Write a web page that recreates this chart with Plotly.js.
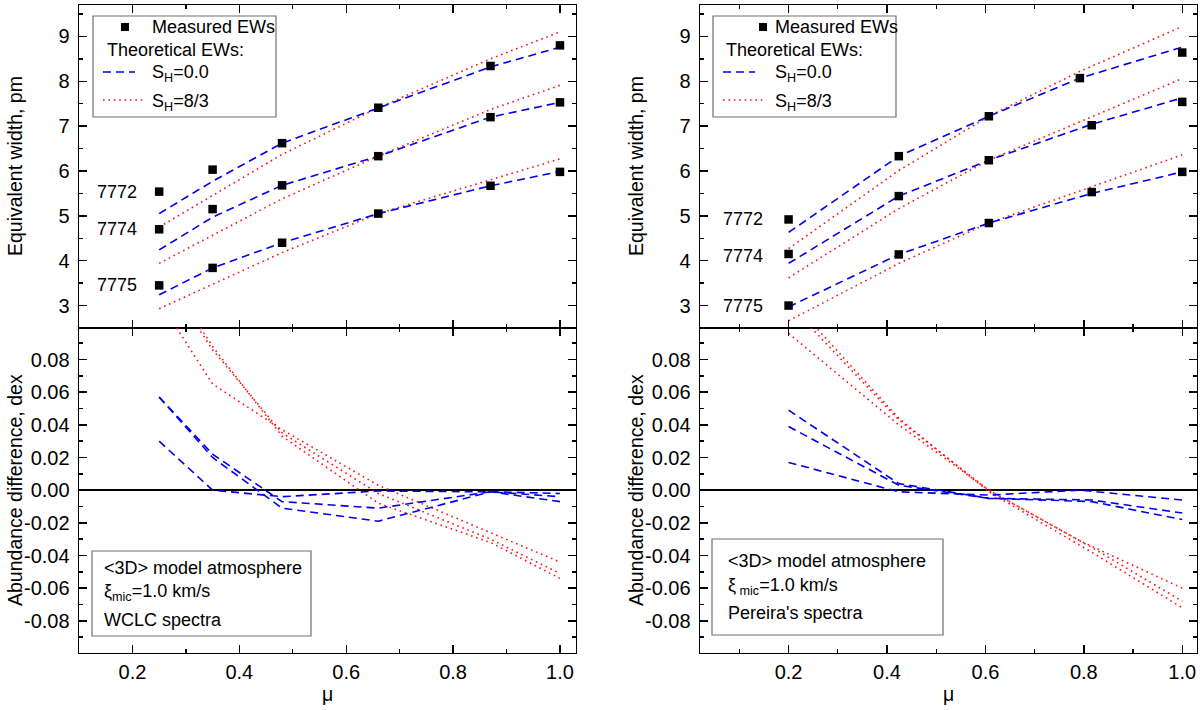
<!DOCTYPE html>
<html>
<head>
<meta charset="utf-8">
<script src="https://cdn.plot.ly/plotly-3.0.1.min.js"></script>
<style>html,body{margin:0;padding:0;background:#fff}</style>
</head>
<body>
<div id="chart" style="width:1200px;height:710px"></div>
<script>
// ---- left panels: WCLC spectra ----
const muL = [0.25, 0.35, 0.48, 0.66, 0.87, 1.0];

const ewMeasL7772 = [5.54, 6.03, 6.62, 7.41, 8.34, 8.80];
const ewMeasL7774 = [4.70, 5.15, 5.68, 6.33, 7.20, 7.53];
const ewMeasL7775 = [3.45, 3.84, 4.40, 5.05, 5.67, 5.98];

const ewS0L7772 = [5.05, 5.77, 6.62, 7.41, 8.32, 8.76];
const ewS0L7774 = [4.24, 4.97, 5.68, 6.33, 7.20, 7.53];
const ewS0L7775 = [3.24, 3.84, 4.40, 5.05, 5.67, 5.99];

const ewS83L7772 = [4.75, 5.45, 6.37, 7.41, 8.50, 9.10];
const ewS83L7774 = [3.94, 4.57, 5.38, 6.33, 7.37, 7.91];
const ewS83L7775 = [2.93, 3.47, 4.18, 5.05, 5.81, 6.27];

const dS0L7772 = [0.057, 0.022, -0.007, -0.011, -0.001, -0.004];
const dS0L7774 = [0.057, 0.020, -0.011, -0.019, -0.001, -0.007];
const dS0L7775 = [0.030, 0.000, -0.004, -0.0005, -0.001, -0.002];

const dS83L7772 = [0.116, 0.065, 0.037, 0.003, -0.026, -0.044];
const dS83L7774 = [0.136, 0.086, 0.035, -0.002, -0.030, -0.051];
const dS83L7775 = [0.138, 0.088, 0.033, -0.008, -0.032, -0.054];

// ---- right panels: Pereira's spectra ----
const muR7772 = [0.2, 0.424, 0.607, 0.792, 1.0];
const muR = [0.2, 0.424, 0.607, 0.816, 1.0];

const ewMeasR7772 = [4.92, 6.33, 7.22, 8.07, 8.64];
const ewMeasR7774 = [4.15, 5.44, 6.24, 7.02, 7.54];
const ewMeasR7775 = [3.00, 4.14, 4.84, 5.53, 5.98];

const ewS0R7772 = [4.63, 6.33, 7.22, 8.07, 8.76];
const ewS0R7774 = [3.94, 5.44, 6.24, 7.04, 7.63];
const ewS0R7775 = [2.97, 4.14, 4.84, 5.50, 5.98];

const ewS83R7772 = [4.27, 6.01, 7.22, 8.22, 9.22];
const ewS83R7774 = [3.62, 5.16, 6.24, 7.20, 8.06];
const ewS83R7775 = [2.66, 3.94, 4.84, 5.64, 6.36];

const dS0R7772 = [0.017, -0.001, -0.003, 0.000, -0.006];
const dS0R7774 = [0.039, 0.003, -0.005, -0.006, -0.014];
const dS0R7775 = [0.049, 0.004, -0.005, -0.007, -0.018];

const dS83R7772 = [0.096, 0.040, 0.000, -0.031, -0.060];
const dS83R7774 = [0.114, 0.043, 0.000, -0.035, -0.068];
const dS83R7775 = [0.118, 0.044, -0.001, -0.038, -0.072];

const lineNames = ['7772', '7774', '7775'];
const ewTicks = [3, 4, 5, 6, 7, 8, 9];
const dTicks = [-0.08, -0.06, -0.04, -0.02, 0.00, 0.02, 0.04, 0.06, 0.08];
const dTickText = ['-0.08', '-0.06', '-0.04', '-0.02', '0.00', '0.02', '0.04', '0.06', '0.08'];
const muTicks = [0.2, 0.4, 0.6, 0.8, 1.0];
const muTickText = ['0.2', '0.4', '0.6', '0.8', '1.0'];

// ---- helpers ----
const W = 1200, H = 710;
const fx = p => p / W;
const fy = p => 1 - p / H;
const FONT = '"Liberation Sans", Arial, Helvetica, sans-serif';
const BLUE = '#0000ee', RED = '#ff1010';
const DASH = '8px,5px', DOT = '1.6px,3.8px';

function theo(x, y, xa, ya, color, dash) {
  return {x: x, y: y, xaxis: xa, yaxis: ya, type: 'scatter', mode: 'lines',
    line: {color: color, width: 1.6, dash: dash}, showlegend: false, hoverinfo: 'skip'};
}
function meas(x, y, xa, ya) {
  return {x: x, y: y, xaxis: xa, yaxis: ya, type: 'scatter', mode: 'markers',
    marker: {symbol: 'square', size: 8.5, color: '#000'}, showlegend: false, hoverinfo: 'skip', cliponaxis: false};
}

const traces = [
  // left top
  theo(muL, ewS83L7772, 'x', 'y', RED, DOT),
  theo(muL, ewS83L7774, 'x', 'y', RED, DOT),
  theo(muL, ewS83L7775, 'x', 'y', RED, DOT),
  theo(muL, ewS0L7772, 'x', 'y', BLUE, DASH),
  theo(muL, ewS0L7774, 'x', 'y', BLUE, DASH),
  theo(muL, ewS0L7775, 'x', 'y', BLUE, DASH),
  meas(muL, ewMeasL7772, 'x', 'y'),
  meas(muL, ewMeasL7774, 'x', 'y'),
  meas(muL, ewMeasL7775, 'x', 'y'),
  // left bottom
  theo(muL, dS83L7772, 'x2', 'y2', RED, DOT),
  theo(muL, dS83L7774, 'x2', 'y2', RED, DOT),
  theo(muL, dS83L7775, 'x2', 'y2', RED, DOT),
  theo(muL, dS0L7772, 'x2', 'y2', BLUE, DASH),
  theo(muL, dS0L7774, 'x2', 'y2', BLUE, DASH),
  theo(muL, dS0L7775, 'x2', 'y2', BLUE, DASH),
  // right top
  theo(muR7772, ewS83R7772, 'x3', 'y3', RED, DOT),
  theo(muR, ewS83R7774, 'x3', 'y3', RED, DOT),
  theo(muR, ewS83R7775, 'x3', 'y3', RED, DOT),
  theo(muR7772, ewS0R7772, 'x3', 'y3', BLUE, DASH),
  theo(muR, ewS0R7774, 'x3', 'y3', BLUE, DASH),
  theo(muR, ewS0R7775, 'x3', 'y3', BLUE, DASH),
  meas(muR7772, ewMeasR7772, 'x3', 'y3'),
  meas(muR, ewMeasR7774, 'x3', 'y3'),
  meas(muR, ewMeasR7775, 'x3', 'y3'),
  // right bottom
  theo(muR7772, dS83R7772, 'x4', 'y4', RED, DOT),
  theo(muR, dS83R7774, 'x4', 'y4', RED, DOT),
  theo(muR, dS83R7775, 'x4', 'y4', RED, DOT),
  theo(muR7772, dS0R7772, 'x4', 'y4', BLUE, DASH),
  theo(muR, dS0R7774, 'x4', 'y4', BLUE, DASH),
  theo(muR, dS0R7775, 'x4', 'y4', BLUE, DASH)
];

function axis(extra) {
  return Object.assign({
    showline: true, linecolor: '#000', linewidth: 1.4, mirror: 'allticks',
    ticks: 'inside', ticklen: 8, tickwidth: 1.4, tickcolor: '#000',
    showgrid: false, zeroline: false, fixedrange: true,
    ticklabelstandoff: 4,
    tickfont: {family: FONT, size: 20, color: '#000'}
  }, extra);
}
const minorX = {ticks: 'inside', ticklen: 4, tickwidth: 1.4, tickcolor: '#000', tickmode: 'linear', tick0: 0, dtick: 0.1, showgrid: false};
const minorEW = {ticks: 'inside', ticklen: 4, tickwidth: 1.4, tickcolor: '#000', tickmode: 'linear', tick0: 0, dtick: 0.5, showgrid: false};
const minorD = {ticks: 'inside', ticklen: 4, tickwidth: 1.4, tickcolor: '#000', tickmode: 'linear', tick0: 0, dtick: 0.01, showgrid: false};

const xL = [fx(79), fx(576)], xR = [fx(700), fx(1197)];
const yTop = [fy(328), fy(5)], yBot = [fy(653), fy(328)];
const rangeL = [0.1, 1.03], rangeR = [0.02, 1.03];
const rangeEW = [2.5, 9.7], rangeD = [-0.0997, 0.0993];

const xTop = extra => axis(Object.assign({tickmode: 'array', tickvals: muTicks, ticktext: muTickText, showticklabels: false, minor: minorX}, extra));
const xBot = extra => axis(Object.assign({tickmode: 'array', tickvals: muTicks, ticktext: muTickText, minor: minorX, ticklabelstandoff: 1}, extra));
const yEW = extra => axis(Object.assign({tickmode: 'array', tickvals: ewTicks, minor: minorEW, range: rangeEW}, extra));
const yD = extra => axis(Object.assign({tickmode: 'array', tickvals: dTicks, ticktext: dTickText, minor: minorD, range: rangeD,
  zeroline: true, zerolinecolor: '#000', zerolinewidth: 1.6}, extra));

const annFont = {family: FONT, size: 18, color: '#000'};
const titleFont = {family: FONT, size: 19.5, color: '#000'};
const annotations = [];
function note(text, x, y, opts) {
  annotations.push(Object.assign({text: text, x: x, y: y, xref: 'paper', yref: 'paper', showarrow: false,
    xanchor: 'left', yanchor: 'middle', font: annFont}, opts || {}));
}

// axis titles
note('Equivalent width, pm', fx(15), fy(166), {xanchor: 'center', textangle: -90, font: titleFont});
note('Abundance difference, dex', fx(15), fy(490), {xanchor: 'center', textangle: -90, font: titleFont});
note('Equivalent width, pm', fx(636), fy(166), {xanchor: 'center', textangle: -90, font: titleFont});
note('Abundance difference, dex', fx(636), fy(490), {xanchor: 'center', textangle: -90, font: titleFont});
note('\u03bc', fx(327.5), fy(694), {xanchor: 'center', font: titleFont});
note('\u03bc', fx(948.5), fy(694), {xanchor: 'center', font: titleFont});

// line identifiers next to the first measured point
const firstL = [ewMeasL7772[0], ewMeasL7774[0], ewMeasL7775[0]];
const firstR = [ewMeasR7772[0], ewMeasR7774[0] - 0.04, ewMeasR7775[0]];
lineNames.forEach((n, i) => {
  annotations.push({text: n, x: 0.213, y: firstL[i], xref: 'x', yref: 'y', showarrow: false,
    xanchor: 'right', yanchor: 'middle', font: annFont});
  annotations.push({text: n, x: 0.153, y: firstR[i], xref: 'x3', yref: 'y3', showarrow: false,
    xanchor: 'right', yanchor: 'middle', font: annFont});
});

const shapes = [];
function legendBox(x0, y0, x1, y1) {
  shapes.push({type: 'rect', xref: 'paper', yref: 'paper', x0: fx(x0), x1: fx(x1), y0: fy(y1), y1: fy(y0),
    line: {color: '#707070', width: 1.2}, fillcolor: '#fff', layer: 'above'});
}
function keyLine(x0, x1, y, color, dash) {
  shapes.push({type: 'line', xref: 'paper', yref: 'paper', x0: fx(x0), x1: fx(x1), y0: fy(y), y1: fy(y),
    line: {color: color, width: 1.6, dash: dash}, layer: 'above'});
}
function keySquare(cx, cy) {
  shapes.push({type: 'rect', xref: 'paper', yref: 'paper', x0: fx(cx - 4), x1: fx(cx + 4), y0: fy(cy + 4), y1: fy(cy - 4),
    line: {width: 0}, fillcolor: '#000', layer: 'above'});
}

// legend in the EW panels, left and right
[93, 713].forEach((ox, k) => {
  const d = k === 0 ? 0 : 2;
  legendBox(ox, 16, ox + 183, 117);
  keySquare(ox + 32 + d * 9, 27);
  note('Measured EWs', fx(ox + 57 + d * 1.5), fy(27));
  note('Theoretical EWs:', fx(ox + 12 - d * 0.5), fy(50));
  keyLine(ox + 10, ox + 42, 72, BLUE, DASH);
  note('S<sub>H</sub>=0.0', fx(ox + 57 + d * 1.5), fy(74));
  keyLine(ox + 10, ox + 50, 100, RED, DOT);
  note('S<sub>H</sub>=8/3', fx(ox + 57 + d * 1.5), fy(102));
});

// model boxes in the abundance panels
legendBox(92, 551, 311, 636);
note('&lt;3D&gt; model atmosphere', fx(102), fy(568));
note('\u03be<sub>mic</sub>=1.0 km/s', fx(102), fy(592));
note('WCLC spectra', fx(102), fy(620));

legendBox(712, 539, 943, 635);
note('&lt;3D&gt; model atmosphere', fx(726), fy(561));
note('\u03be<sub> mic</sub>=1.0 km/s', fx(726), fy(586));
note('Pereira\'s spectra', fx(726), fy(613));

const layout = {
  width: W, height: H,
  margin: {l: 0, r: 0, t: 0, b: 0},
  paper_bgcolor: '#fff', plot_bgcolor: '#fff',
  showlegend: false,
  font: {family: FONT, color: '#000'},
  xaxis: xTop({domain: xL, anchor: 'y', range: rangeL}),
  yaxis: yEW({domain: yTop, anchor: 'x'}),
  xaxis2: xBot({domain: xL, anchor: 'y2', range: rangeL}),
  yaxis2: yD({domain: yBot, anchor: 'x2'}),
  xaxis3: xTop({domain: xR, anchor: 'y3', range: rangeR}),
  yaxis3: yEW({domain: yTop, anchor: 'x3'}),
  xaxis4: xBot({domain: xR, anchor: 'y4', range: rangeR}),
  yaxis4: yD({domain: yBot, anchor: 'x4'}),
  annotations: annotations,
  shapes: shapes
};

Plotly.newPlot('chart', traces, layout, {displayModeBar: false, staticPlot: true});
</script>
</body>
</html>
